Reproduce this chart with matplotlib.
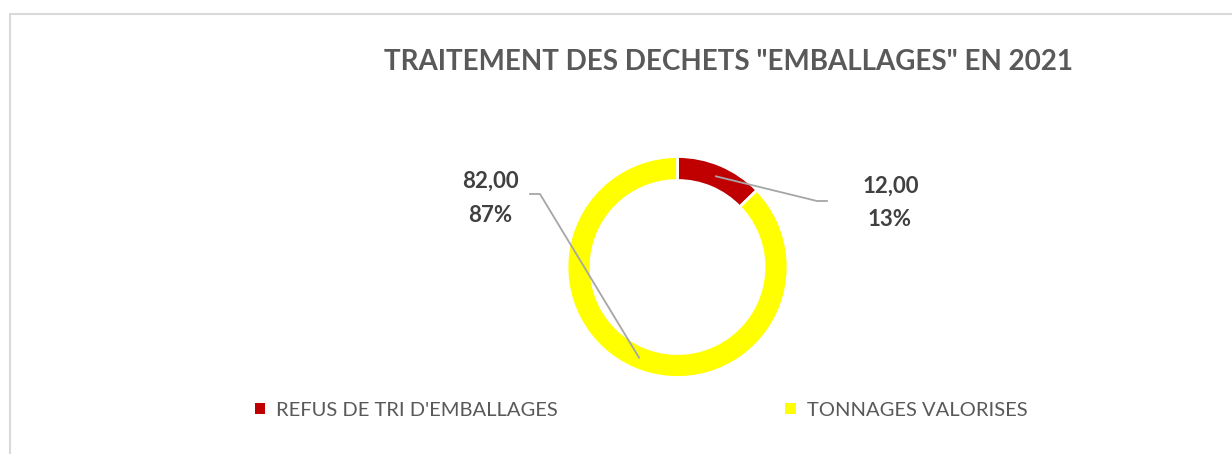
import numpy as np
import matplotlib.pyplot as plt
from matplotlib.patches import Patch, Rectangle

# données
categories = ["REFUS DE TRI D'EMBALLAGES", "TONNAGES VALORISES"]
tonnages = [12.00, 82.00]
couleurs = ['#C00000', '#FFFF00']
titre = 'TRAITEMENT DES DECHETS "EMBALLAGES" EN 2021'

plt.rcParams['font.family'] = ['Lato', 'DejaVu Sans']

W, H = 1232, 454
fig = plt.figure(figsize=(W / 100, H / 100), dpi=100)
ax = fig.add_axes([0, 0, 1, 1])

# cadre gris du graphique
fig.patches.append(Rectangle((10 / W, -0.1), 1.2, (H - 14) / H + 0.1,
                             transform=fig.transFigure, fill=False,
                             edgecolor='#d9d9d9', linewidth=1.5))

# donut
cx, cy, rayon, epaisseur = 677.5, H - 267, 110.5, 24
wedges, _ = ax.pie(tonnages, colors=couleurs, startangle=90, counterclock=False,
                   radius=rayon, center=(cx, cy),
                   wedgeprops=dict(width=epaisseur, edgecolor='white', linewidth=2))
ax.set_xlim(0, W)
ax.set_ylim(0, H)
ax.set_aspect('equal')
ax.axis('off')

# étiquettes avec lignes de rappel
total = sum(tonnages)
r_mid = rayon - epaisseur / 2
coudes = [[(817, 201), (827, 201)], [(540, 194), (530, 194)]]
pos_txt = [[(891, 193), (890, 226)], [(490, 188), (490, 222)]]
for w, val, coude, pt in zip(wedges, tonnages, coudes, pos_txt):
    ang = np.deg2rad((w.theta1 + w.theta2) / 2)
    x0, y0 = cx + r_mid * np.cos(ang), cy + r_mid * np.sin(ang)
    xs = [x0] + [c[0] for c in coude]
    ys = [y0] + [H - c[1] for c in coude]
    ax.plot(xs, ys, color='#a6a6a6', linewidth=1.3)
    pct = f'{val / total * 100:.0f}%'
    ax.text(pt[0][0], H - pt[0][1], f'{val:.2f}'.replace('.', ','), ha='center', va='baseline',
            fontsize=16, fontweight='bold', color='#404040')
    ax.text(pt[1][0], H - pt[1][1], pct, ha='center', va='baseline',
            fontsize=16, fontweight='bold', color='#404040')

# titre
ax.text(728.5, H - 70, titre, ha='center', va='baseline', fontsize=20,
        fontweight='bold', color='#595959')

# légende
handles = [Patch(facecolor=c, edgecolor='none') for c in couleurs]
leg = ax.legend(handles, categories, ncol=2, loc='center left',
                bbox_to_anchor=(255 / W, (H - 410) / H), frameon=False,
                fontsize=14.5, labelcolor='#595959', handlelength=0.5,
                handleheight=0.5, handletextpad=0.55, columnspacing=11.3,
                borderaxespad=0, borderpad=0)

fig.savefig('out.png', dpi=100)
